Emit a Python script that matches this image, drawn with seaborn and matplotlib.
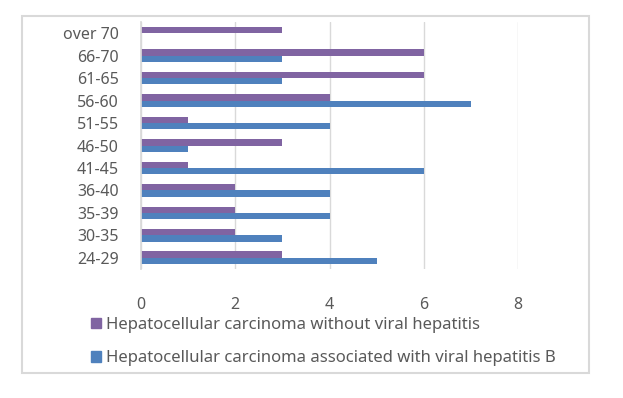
import matplotlib
matplotlib.use("Agg")
import matplotlib.pyplot as plt
import matplotlib.patches as mpatches
import seaborn as sns
import pandas as pd

# age groups, top to bottom as drawn
age_groups = ["over 70", "66-70", "61-65", "56-60", "51-55", "46-50",
              "41-45", "36-40", "35-39", "30-35", "24-29"]
without_viral = [3, 6, 6, 4, 1, 3, 1, 2, 2, 2, 3]
with_hbv = [0, 3, 3, 7, 4, 1, 6, 4, 4, 3, 5]

label_without = "Hepatocellular carcinoma without viral hepatitis"
label_hbv = "Hepatocellular carcinoma associated with viral hepatitis B"

purple = "#8064A2"
blue = "#4F81BD"
text_gray = "#595959"

df = pd.DataFrame({
    "age": age_groups * 2,
    "count": without_viral + with_hbv,
    "group": [label_without] * len(age_groups) + [label_hbv] * len(age_groups),
})

sns.set_theme(style="white")
plt.rcParams["font.family"] = ["Noto Sans", "DejaVu Sans"]

fig = plt.figure(figsize=(6.23, 3.98), dpi=100)
ax = fig.add_axes([141 / 623, 1 - 269 / 398, (518 - 141) / 623, (269 - 22) / 398])

sns.barplot(data=df, y="age", x="count", hue="group", order=age_groups,
            hue_order=[label_without, label_hbv],
            palette=[purple, blue], width=0.56, orient="h",
            saturation=1, linewidth=0, ax=ax, legend=False)

ax.set_xlim(0, 8)
ax.set_xticks([0, 2, 4, 6, 8])
ax.set_ylim(len(age_groups) - 0.5, -0.5)
ax.xaxis.grid(True, color="#d9d9d9", linewidth=1)
ax.set_axisbelow(True)
for side in ["top", "right", "bottom"]:
    ax.spines[side].set_visible(False)
ax.spines["left"].set_color("#d9d9d9")
ax.set_xlabel("")
ax.set_ylabel("")
ax.tick_params(axis="x", length=0, pad=20, labelsize=11.5, labelcolor=text_gray)
ax.tick_params(axis="y", length=0, pad=16, labelsize=11.5, labelcolor=text_gray)

# legend below the plot, one entry per row
handles = [mpatches.Patch(color=purple, label=label_without),
           mpatches.Patch(color=blue, label=label_hbv)]
fig.legend(handles=handles, loc="upper left", bbox_to_anchor=(76 / 623, 1 - 302 / 398),
           frameon=False, fontsize=12, labelcolor=text_gray,
           handlelength=0.6, handleheight=0.6, handletextpad=0.3, labelspacing=1.05)

# light frame around the chart area
fig.patches.append(mpatches.Rectangle((22 / 623, 1 - 373 / 398), (589 - 22) / 623,
                                      (373 - 16) / 398, transform=fig.transFigure,
                                      fill=False, edgecolor="#d9d9d9", linewidth=1.5))

fig.savefig("out.png", dpi=100, facecolor="white")
